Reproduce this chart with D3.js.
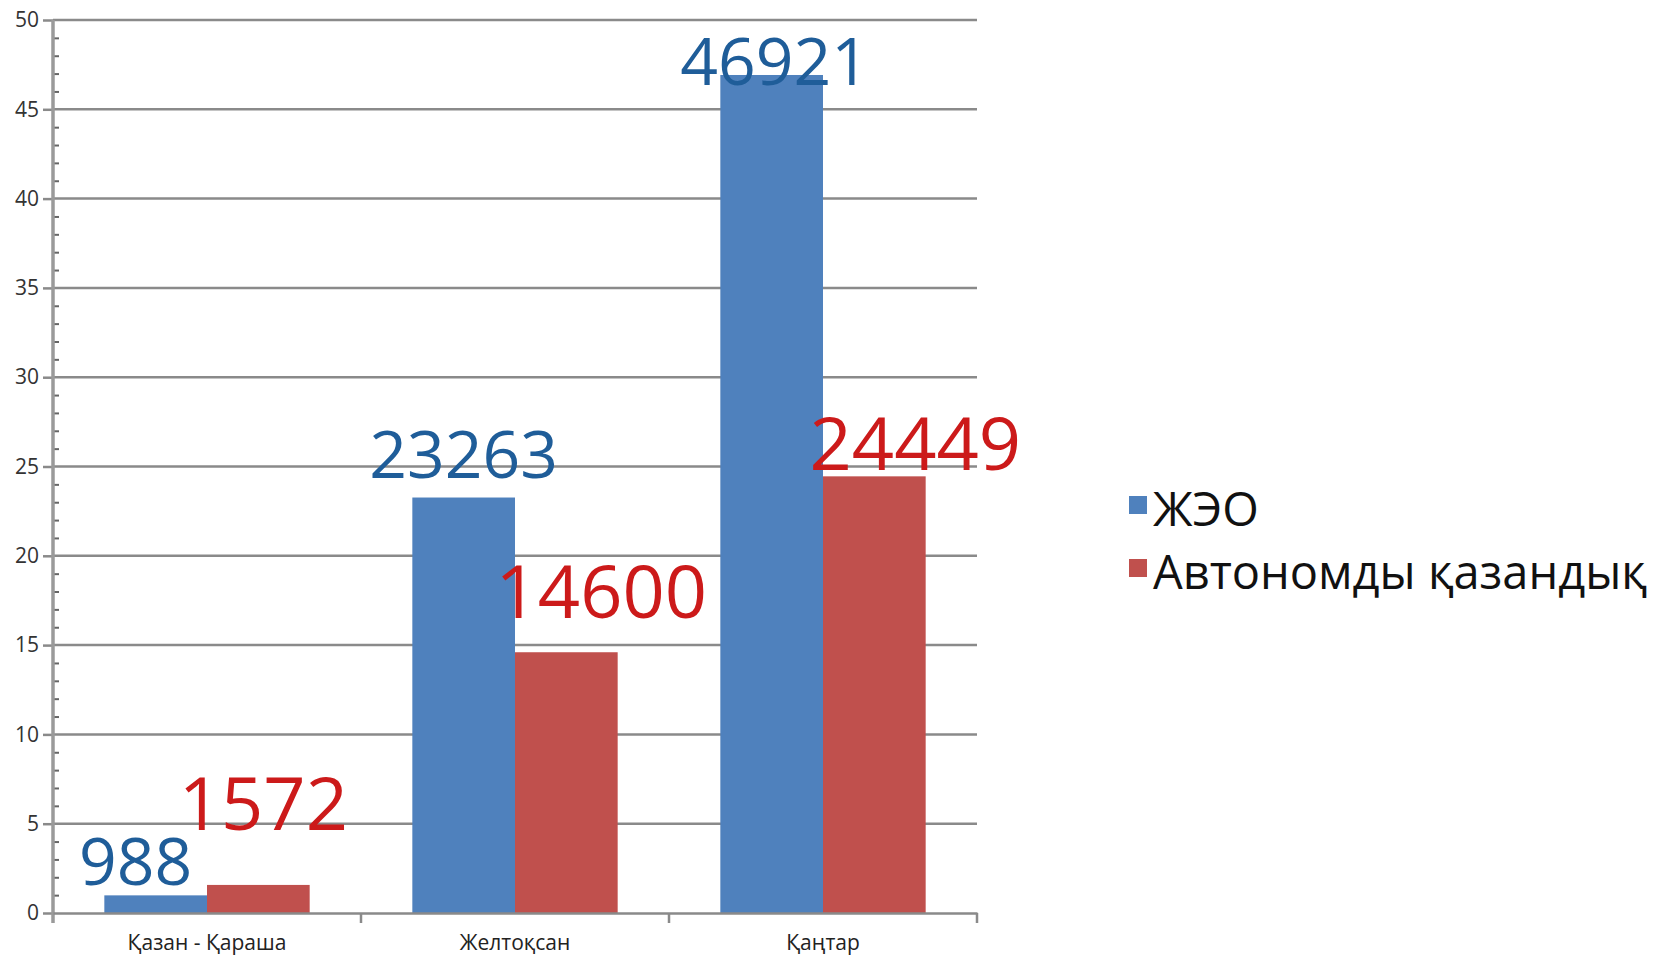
<!DOCTYPE html>
<html>
<head>
<meta charset="utf-8">
<script src="https://cdn.jsdelivr.net/npm/d3@7/dist/d3.min.js"></script>
<style>
  html, body { margin: 0; padding: 0; background: #fff; }
  svg { display: block; }
  text { font-family: "Open Sans", "Noto Sans", sans-serif; }
</style>
</head>
<body>
<svg id="chart" width="1658" height="958"></svg>
<script>
// ---- data ----
const categories = ["Қазан - Қараша", "Желтоқсан", "Қаңтар"];
const seriesNames = ["ЖЭО", "Автономды қазандық"];
const seriesJEO = [988, 23263, 46921];
const seriesAvt = [1572, 14600, 24449];
const yTickLabels = [0, 5, 10, 15, 20, 25, 30, 35, 40, 45, 50];
const yMinorTicks = d3.range(0, 51, 1);
const valueUnit = 1000; // bars are plotted in thousands

// ---- layout / style ----
const W = 1658, H = 958;
const plot = { left: 53, right: 977, top: 20, bottom: 913 };
const colors = ["#4F81BD", "#C0504D"];
const labelColors = ["#1F5D99", "#CC1A1A"];
const labelSizes = [66, 74];
// manual nudges of the data labels (px): [series][category] -> [dx, dy]
const labelNudge = [
  [[-20, -10], [0, -20], [3, 10]],
  [[5, -55], [35, -34], [41, -6]]
];

const svg = d3.select("#chart");
svg.append("rect").attr("width", W).attr("height", H).attr("fill", "#fff");

const x = d3.scaleBand().domain(categories).range([plot.left, plot.right]).padding(0);
const bw = x.bandwidth();
const xSub = d3.scaleBand().domain(seriesNames).range([bw / 6, bw * 5 / 6]).padding(0);
const y = d3.scaleLinear().domain([0, 50]).range([plot.bottom, plot.top]);

// gridlines
svg.append("g").selectAll("line").data(yTickLabels.filter(d => d > 0)).join("line")
  .attr("x1", plot.left).attr("x2", plot.right)
  .attr("y1", d => y(d)).attr("y2", d => y(d))
  .attr("stroke", "#8a8a8a").attr("stroke-width", 2.5);

// bars
const series = [seriesJEO, seriesAvt];
const groups = svg.append("g");
series.forEach((vals, si) => {
  groups.append("g").selectAll("rect").data(vals).join("rect")
    .attr("x", (d, i) => x(categories[i]) + xSub(seriesNames[si]))
    .attr("width", xSub.bandwidth())
    .attr("y", d => y(d / valueUnit))
    .attr("height", d => y(0) - y(d / valueUnit))
    .attr("fill", colors[si]);
});

// y axis (major)
const yAxis = d3.axisLeft(y).tickValues(yTickLabels).tickSize(10).tickPadding(4);
const gy = svg.append("g").attr("transform", `translate(${plot.left},0)`).call(yAxis);
gy.select(".domain").remove();
gy.selectAll(".tick line").attr("stroke", "#8a8a8a").attr("stroke-width", 2.5);
gy.selectAll(".tick text").attr("font-size", 21).attr("fill", "#333")
  .attr("font-family", "'Open Sans', sans-serif");

// y axis (minor ticks, inside)
const yMinor = d3.axisRight(y).tickValues(yMinorTicks.filter(d => d % 5 !== 0)).tickSize(6).tickFormat("");
const gm = svg.append("g").attr("transform", `translate(${plot.left},0)`).call(yMinor);
gm.select(".domain").remove();
gm.selectAll(".tick line").attr("stroke", "#666").attr("stroke-width", 2);

// y axis line
svg.append("line")
  .attr("x1", plot.left).attr("x2", plot.left)
  .attr("y1", plot.top).attr("y2", plot.bottom + 10)
  .attr("stroke", "#9a9a9a").attr("stroke-width", 3.5);

// x axis
const xAxis = d3.axisBottom(x).tickSize(0).tickPadding(22);
const gx = svg.append("g").attr("transform", `translate(0,${plot.bottom})`).call(xAxis);
gx.select(".domain").attr("stroke", "#8a8a8a").attr("stroke-width", 2.5);
gx.selectAll(".tick text").attr("font-size", 21).attr("fill", "#222")
  .attr("font-family", "'Open Sans', sans-serif").attr("dy", "0.71em");
// category boundary ticks
const bounds = categories.map(c => x(c) + bw);
svg.append("g").selectAll("line").data(bounds).join("line")
  .attr("x1", d => d).attr("x2", d => d)
  .attr("y1", plot.bottom).attr("y2", plot.bottom + 10)
  .attr("stroke", "#8a8a8a").attr("stroke-width", 2.5);

// data labels
series.forEach((vals, si) => {
  svg.append("g").selectAll("text").data(vals).join("text")
    .attr("x", (d, i) => x(categories[i]) + xSub(seriesNames[si]) + xSub.bandwidth() / 2 + labelNudge[si][i][0])
    .attr("y", (d, i) => y(d / valueUnit) + labelNudge[si][i][1])
    .attr("text-anchor", "middle")
    .attr("font-size", labelSizes[si])
    .attr("fill", labelColors[si])
    .text(d => d);
});

// legend
const legend = svg.append("g").attr("transform", "translate(1129,496)");
seriesNames.forEach((name, i) => {
  const g = legend.append("g").attr("transform", `translate(0,${i * 63})`);
  g.append("rect").attr("width", 18).attr("height", 18).attr("fill", colors[i]);
  g.append("text").attr("x", 24).attr("y", 30).attr("font-size", 47).attr("fill", "#111").text(name);
});
</script>
</body>
</html>
